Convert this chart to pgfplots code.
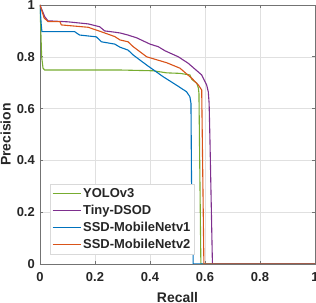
\documentclass[border=0pt]{standalone}
\usepackage{fontspec}
\setmainfont{Liberation Sans}
\usepackage{pgfplots}
\pgfplotsset{compat=1.18}
\definecolor{cG}{RGB}{119,172,48}
\definecolor{cP}{RGB}{126,47,142}
\definecolor{cB}{RGB}{0,114,189}
\definecolor{cO}{RGB}{217,83,25}
\definecolor{tx}{RGB}{38,38,38}
\begin{document}
\begin{tikzpicture}
\begin{axis}[
  scale only axis, width=275bp, height=259bp,
  xmin=0, xmax=1, ymin=0, ymax=1,
  xtick={0,0.2,0.4,0.6,0.8,1}, ytick={0,0.2,0.4,0.6,0.8,1},
  tick align=inside, major tick length=3bp,
  grid=major, grid style={black!12, line width=0.5bp},
  axis line style={black!55, line width=0.6bp},
  tick style={black!55, line width=0.6bp},
  /pgf/number format/assume math mode=true,
  ticklabel style={font=\fontsize{13}{13}\selectfont\bfseries, text=tx, inner sep=0pt},
  xticklabel shift=8.5bp, yticklabel shift=5bp,
  xlabel={Recall}, ylabel={Precision},
  label style={font=\fontsize{14}{14}\selectfont\bfseries, text=tx, inner sep=0pt},
  xlabel style={at={(axis description cs:0.5,-0.108)}, anchor=north},
  ylabel style={at={(axis description cs:-0.1055,0.5)}, anchor=south},
  legend style={at={(axis description cs:0.036,0.039)}, anchor=south west,
    draw=black!15, fill=white, font=\fontsize{13}{13}\selectfont\bfseries\color{tx},
    inner sep=2bp, row sep=2.2bp},
  legend cell align=left,
  legend image code/.code={\draw[#1] (0bp,0bp) -- (28bp,0bp);},
]
\addplot[color=cG, line width=1.1bp] coordinates {
(0,1) (0.006,0.80) (0.011,0.756) (0.017,0.749) (0.291,0.749) (0.412,0.746)
(0.461,0.738) (0.509,0.736) (0.545,0.73) (0.552,0.713) (0.57,0.698) (0.576,0.679)
(0.578,0.659) (0.585,0) (1,0)};
\addlegendentry{YOLOv3}
\addplot[color=cP, line width=1.1bp] coordinates {
(0,1) (0.017,0.955) (0.029,0.939) (0.102,0.935) (0.175,0.927) (0.217,0.916)
(0.235,0.900) (0.272,0.895) (0.291,0.892) (0.32,0.884) (0.352,0.873) (0.4,0.849)
(0.43,0.839) (0.455,0.823) (0.503,0.8) (0.539,0.775) (0.588,0.73) (0.606,0.691)
(0.612,0.665) (0.615,0.62) (0.618,0.48) (0.627,0) (1,0)};
\addlegendentry{Tiny-DSOD}
\addplot[color=cB, line width=1.1bp] coordinates {
(0,1) (0.004,0.93) (0.007,0.897) (0.126,0.897) (0.144,0.884) (0.205,0.877)
(0.223,0.858) (0.272,0.849) (0.291,0.837) (0.32,0.826) (0.339,0.807) (0.388,0.768)
(0.448,0.723) (0.497,0.69) (0.533,0.665) (0.545,0.646) (0.549,0.62) (0.551,0.32)
(0.557,0.035) (0.557,0) (1,0)};
\addlegendentry{SSD-MobileNetv1}
\addplot[color=cO, line width=1.1bp] coordinates {
(0,1) (0.015,0.95) (0.029,0.936) (0.072,0.936) (0.078,0.923) (0.175,0.914)
(0.222,0.897) (0.272,0.878) (0.291,0.865) (0.32,0.858) (0.339,0.839) (0.388,0.8)
(0.461,0.777) (0.509,0.756) (0.552,0.717) (0.576,0.691) (0.588,0.672) (0.596,0) (1,0)};
\addlegendentry{SSD-MobileNetv2}
\coordinate (ll) at (rel axis cs:0,0);
\coordinate (ur) at (rel axis cs:1,1);
\end{axis}
\pgfresetboundingbox
\path ([xshift=-40bp,yshift=-39bp]ll) rectangle ([xshift=1bp,yshift=5bp]ur);
\end{tikzpicture}
\end{document}
